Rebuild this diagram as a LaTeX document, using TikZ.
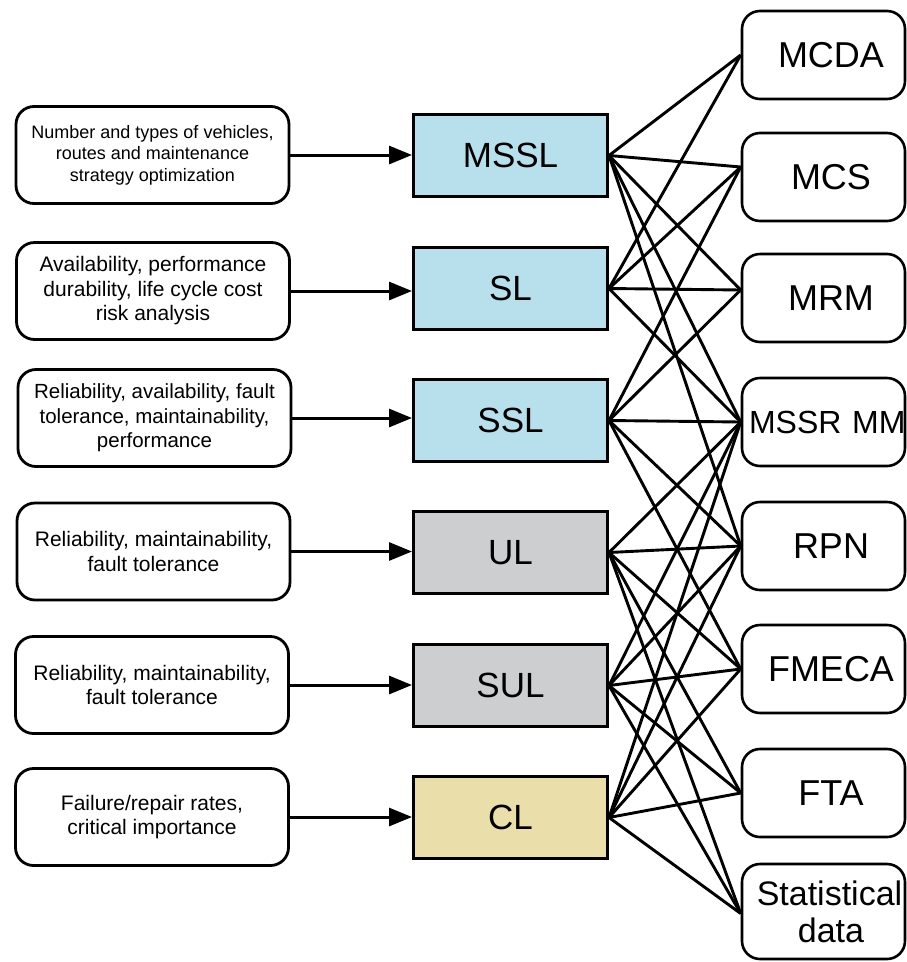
\documentclass[tikz,border=0pt]{standalone}
\usepackage{fontspec}
\setmainfont{Liberation Sans}
\usetikzlibrary{arrows.meta}

\definecolor{levelblue}{RGB}{183,223,236}
\definecolor{levelgrey}{RGB}{205,206,208}
\definecolor{levelsand}{RGB}{234,222,170}

\begin{document}
\begin{tikzpicture}[x=1pt,y=-1pt,
  infobox/.style={draw, line width=2.8pt, rounded corners=18pt,
    minimum width=273pt, minimum height=97pt, inner sep=0pt, align=center,
    font=\fontsize{21}{24.5}\selectfont},
  levelbox/.style={draw, line width=3pt, minimum width=194pt,
    minimum height=82pt, inner sep=0pt, font=\fontsize{35}{40}\selectfont},
  method/.style={draw, fill=white, line width=2.6pt, rounded corners=18pt,
    text width=163pt, inner xsep=0pt, inner ysep=0pt, minimum height=88pt,
    align=center, font=\fontsize{36}{40}\selectfont},
  feed/.style={line width=3pt, -{Triangle[length=23pt,width=18pt]}},
  link/.style={line width=2.9pt}]

\useasboundingbox (0,0) rectangle (907,962);
\clip (0,0) rectangle (907,962);

% attributes assessed at each level
\node[infobox, font=\fontsize{18}{21.5}\selectfont] (in1) at (152.5,155)
  {Number and types of vehicles,\\routes and maintenance\\strategy optimization};
\node[infobox] (in2) at (153,291)
  {Availability, performance\\durability, life cycle cost\\risk analysis};
\node[infobox, font=\fontsize{20.5}{24.5}\selectfont] (in3) at (154.5,418)
  {Reliability, availability, fault\\tolerance, maintainability,\\performance};
\node[infobox] (in4) at (153.5,551.5)
  {Reliability, maintainability,\\fault tolerance};
\node[infobox] (in5) at (152,685)
  {Reliability, maintainability,\\fault tolerance};
\node[infobox] (in6) at (152,817)
  {Failure/repair rates,\\critical importance};

% system levels
\node[levelbox, fill=levelblue] (mssl) at (510.5,155.5) {MSSL};
\node[levelbox, fill=levelblue] (sl)   at (510.5,288.5) {SL};
\node[levelbox, fill=levelblue] (ssl)  at (510.5,420.5) {SSL};
\node[levelbox, fill=levelgrey] (ul)   at (510.5,552.5) {UL};
\node[levelbox, fill=levelgrey] (sul)  at (510.5,685.5) {SUL};
\node[levelbox, fill=levelsand] (cl)   at (510.5,817.5) {CL};

% analysis methods
\node[method] (mcda)  at (823.5,55)  {\hspace*{15pt}MCDA};
\node[method] (mcs)   at (823.5,177) {\hspace*{15pt}MCS};
\node[method] (mrm)   at (823.5,298) {\hspace*{15pt}MRM};
\node[method, align=left, font=\fontsize{32}{36}\selectfont] (mssr)
  at (823.5,422) {\hspace*{7pt}MSSR~MM};
\node[method] (rpn)   at (823.5,546) {\hspace*{15pt}RPN};
\node[method] (fmeca) at (823.5,669) {\hspace*{15pt}FMECA};
\node[method] (fta)   at (823.5,793) {\hspace*{15pt}FTA};
\node[method, minimum height=95pt, font=\fontsize{34}{37}\selectfont] (stat)
  at (823.5,911.5) {\hspace*{12pt}Statistical\\\hspace*{15pt}data};

% inputs feeding each level
\foreach \i/\l in {in1/mssl, in2/sl, in3/ssl, in4/ul, in5/sul, in6/cl}
  \draw[feed] (\i.east) -- (\i.east -| \l.west);

% entry points on the method boxes
\coordinate (mcda-in)  at (mcda.west);
\coordinate (mcs-in)   at ([yshift=10pt]mcs.west);
\coordinate (mrm-in)   at ([yshift=8pt]mrm.west);
\coordinate (mssr-in)  at (mssr.west);
\coordinate (rpn-in)   at (rpn.west);
\coordinate (fmeca-in) at (fmeca.west);
\coordinate (fta-in)   at (fta.west);
\coordinate (stat-in)  at ([yshift=-2pt]stat.west);

% level-to-method links
\foreach \l/\m in {mssl/mcda, mssl/mcs, mssl/mrm, mssl/mssr, mssl/rpn,
                   sl/mcda, sl/mcs, sl/mrm, sl/mssr,
                   ssl/mcs, ssl/mrm, ssl/mssr, ssl/rpn, ssl/fmeca,
                   ul/mssr, ul/rpn, ul/fmeca, ul/fta, ul/stat,
                   sul/mssr, sul/rpn, sul/fmeca, sul/fta, sul/stat,
                   cl/mssr, cl/rpn, cl/fmeca, cl/fta, cl/stat}
  \draw[link] (\l.east) -- (\m-in);

\end{tikzpicture}
\end{document}
